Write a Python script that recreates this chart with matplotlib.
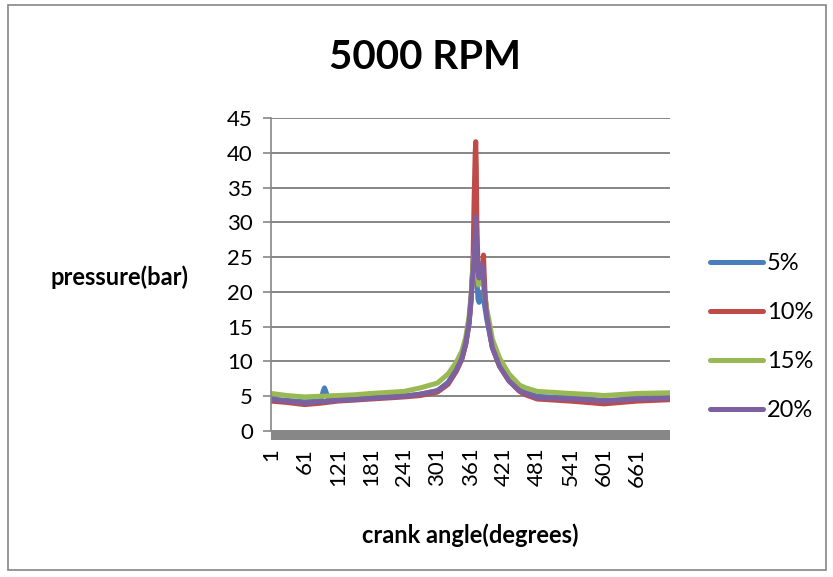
import numpy as np
import matplotlib.pyplot as plt
from matplotlib.patches import Rectangle

plt.rcParams['font.family'] = ['Lato', 'DejaVu Sans']

# crank angle samples (degrees) and pressure readings (bar)
angle_5 = [1, 30, 61, 90, 95, 97, 99, 105, 121, 181, 241, 270, 301, 320, 335, 345, 352, 358, 362, 365, 368, 370, 372, 374, 376, 378, 381, 384, 387, 390, 395, 400, 413, 430, 449, 460, 481, 541, 587, 601, 661, 720]
p_5 = [4.6, 4.4, 4.2, 4.3, 5.8, 6.2, 5.8, 4.4, 4.5, 4.8, 5.0, 5.3, 5.8, 7.0, 8.8, 10.5, 12.5, 15.5, 19.0, 24.0, 28.0, 30.0, 22.0, 19.0, 18.5, 19.5, 20.0, 19.0, 17.5, 16.0, 14.0, 12.0, 9.5, 7.5, 6.0, 5.6, 5.0, 4.7, 4.5, 4.4, 4.6, 4.7]

angle_10 = [1, 30, 61, 90, 121, 181, 241, 270, 301, 320, 335, 345, 352, 358, 362, 365, 367, 369, 370, 371, 372, 374, 376, 378, 381, 383, 384, 385, 387, 390, 395, 400, 413, 430, 449, 460, 481, 541, 587, 601, 661, 720]
p_10 = [4.3, 4.1, 3.8, 4.0, 4.3, 4.6, 4.9, 5.1, 5.6, 6.7, 8.6, 10.3, 12.5, 15.5, 19.5, 24.0, 33.0, 40.0, 41.6, 38.0, 30.0, 24.0, 22.0, 22.5, 23.0, 24.0, 25.3, 23.0, 19.5, 17.0, 14.5, 12.0, 9.3, 7.2, 5.7, 5.2, 4.6, 4.3, 4.0, 3.9, 4.3, 4.5]

angle_15 = [1, 30, 61, 90, 121, 150, 181, 241, 270, 301, 320, 335, 345, 352, 358, 362, 365, 368, 370, 372, 375, 378, 381, 384, 387, 390, 395, 400, 413, 430, 449, 460, 481, 541, 587, 601, 661, 720]
p_15 = [5.4, 5.1, 4.9, 5.0, 5.1, 5.2, 5.4, 5.7, 6.2, 6.9, 8.2, 9.9, 11.5, 13.5, 16.5, 20.0, 24.0, 26.0, 25.0, 23.0, 21.0, 21.5, 22.0, 21.0, 19.0, 17.5, 15.5, 13.2, 10.5, 8.2, 6.6, 6.2, 5.7, 5.4, 5.2, 5.1, 5.4, 5.5]

angle_20 = [1, 30, 61, 90, 121, 150, 181, 241, 270, 301, 320, 335, 345, 352, 358, 362, 365, 368, 369, 370, 371, 372, 374, 376, 378, 380, 382, 384, 386, 388, 390, 395, 400, 413, 430, 449, 460, 481, 541, 587, 601, 661, 720]
p_20 = [4.5, 4.3, 4.0, 4.2, 4.4, 4.5, 4.7, 5.0, 5.3, 5.8, 6.9, 8.8, 10.5, 12.7, 15.7, 19.5, 23.0, 26.0, 28.0, 30.8, 28.0, 25.0, 23.0, 22.0, 23.0, 24.0, 23.5, 22.0, 20.0, 18.0, 16.5, 14.2, 12.0, 9.3, 7.2, 5.8, 5.4, 4.8, 4.6, 4.4, 4.3, 4.6, 4.7]

labels = ['5%', '10%', '15%', '20%']
colors = ['#4a7ebb', '#be4b48', '#98b954', '#7d60a0']
xticks = np.arange(1, 721, 60)

fig = plt.figure(figsize=(8.33, 5.77), dpi=100)
fig.patches.append(Rectangle((0.010, 0.012), 0.982, 0.980, transform=fig.transFigure,
                             fill=False, edgecolor='#868686', linewidth=1.2))

ax = fig.add_axes([0.3253, 0.253, 0.479, 0.5425])
series = [(angle_5, p_5), (angle_10, p_10), (angle_15, p_15), (angle_20, p_20)]
for (a, p), lab, c in zip(series, labels, colors):
    ax.plot(a, p, color=c, linewidth=3.6, label=lab, solid_capstyle='round')

ax.set_xlim(0.5, 720.5)
ax.set_ylim(0, 45)
ax.set_yticks(range(0, 46, 5))
ax.set_xticks(xticks)
ax.set_xticklabels([str(t) for t in xticks], rotation=90, fontsize=16)
ax.tick_params(axis='y', labelsize=16, length=6, color='#868686', width=1.2, pad=7)
ax.tick_params(axis='x', length=0, pad=12)
ax.grid(axis='y', color='#868686', linewidth=1.4)
ax.set_axisbelow(True)
for s in ['top', 'right', 'bottom']:
    ax.spines[s].set_visible(False)
ax.spines['left'].set_color('#868686')
ax.spines['left'].set_linewidth(1.2)

# grey floor band under the plot area
ax.add_patch(Rectangle((0, -0.029), 1, 0.029, transform=ax.transAxes,
                       facecolor='#878787', edgecolor='none', clip_on=False))

fig.text(0.510, 0.900, '5000 RPM', fontsize=29, fontweight='bold', ha='center', va='center')
fig.text(0.144, 0.520, 'pressure(bar)', fontsize=17, fontweight='bold', ha='center', va='center')
fig.text(0.564, 0.073, 'crank angle(degrees)', fontsize=17, fontweight='bold', ha='center', va='center')

leg = ax.legend(loc='center left', bbox_to_anchor=(1.10, 0.30), frameon=False, fontsize=17,
                handlelength=2.25, handletextpad=0.17, labelspacing=1.19,
                borderpad=0, borderaxespad=0)
for h in leg.get_lines():
    h.set_linewidth(3.6)

fig.savefig('out.png', dpi=100)
